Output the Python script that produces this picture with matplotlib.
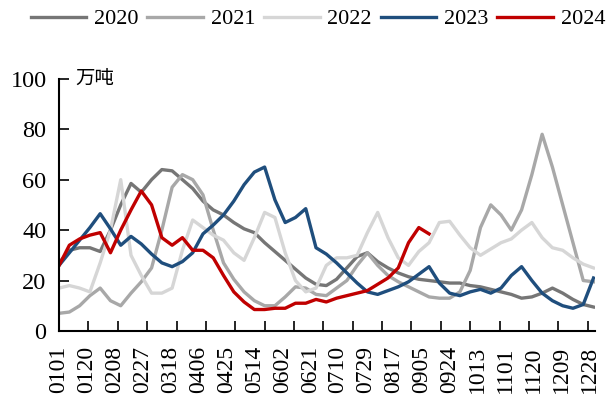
import numpy as np
import matplotlib
matplotlib.use('Agg')
import matplotlib.pyplot as plt

# weekly values, 万吨
y2020 = [27, 32, 33, 33, 31.5, 40, 50, 58.5, 55, 60, 64, 63.5, 60, 56.5, 51.5, 48, 46, 43,
         40.5, 39, 35, 31.5, 28, 24.5, 21, 18.5, 18, 20.5, 25, 29.5, 31, 27.5, 25, 23, 21.5,
         20.5, 20, 19.5, 19, 19, 18, 17.5, 16.5, 15.5, 14.5, 13, 13.5, 15, 17, 15, 12.5, 10.5, 9.5]
y2021 = [7, 7.5, 10, 14, 17, 12, 10, 15, 19.5, 25, 40, 57, 62, 60, 54, 40, 27, 20.5,
         15.5, 12, 10, 10, 13.5, 17.5, 17, 14.5, 14, 17, 20, 26, 31, 26, 22, 19.5, 17.5,
         15.5, 13.5, 13, 13, 15.5, 24, 41, 50, 46, 40, 48, 62, 78, 65, 50, 35, 20, 19.5]
y2022 = [17, 18, 17, 15.5, 27, 40, 60, 30, 22, 15, 15, 17, 32, 44, 41, 38, 36, 31,
         28, 37, 47, 45, 31, 20, 15.5, 17, 26, 29, 29, 30, 39, 47, 37, 29, 26,
         31.5, 35, 43, 43.5, 38, 33, 30, 32.5, 35, 36.5, 40, 43, 37, 33, 32, 29, 26.5, 25]
y2023 = [26, 31, 36, 41, 46.5, 40.5, 34, 37.5, 34.5, 30.5, 27, 25.5, 27.5, 31, 38.5, 42, 46, 51.5,
         58, 63, 65, 52, 43, 45, 48.5, 33, 30.5, 27, 23, 19, 15.5, 14.5, 16, 17.5, 19.5,
         22.5, 25.5, 19, 15, 14, 15.5, 16.5, 15, 17, 22, 25.5, 20, 15, 12, 10, 9, 10.5, 21]
y2024 = [26, 34, 36.5, 38, 39, 31, 40, 48, 55.5, 50, 37, 34, 37, 32, 32, 29, 22, 15.5,
         11.5, 8.5, 8.5, 9, 9, 11, 11, 12.5, 11.5, 13, 14, 15, 16, 18.5, 21, 25, 35, 41, 38.5]

series = {'2020': y2020, '2021': y2021, '2022': y2022, '2023': y2023, '2024': y2024}
colors = {'2020': '#767676', '2021': '#a8a8a8', '2022': '#d6d6d6',
          '2023': '#1f4e7d', '2024': '#c00000'}

tick_labels = ['0101', '0120', '0208', '0227', '0318', '0406', '0425', '0514', '0602', '0621',
               '0710', '0729', '0817', '0905', '0924', '1013', '1101', '1120', '1209', '1228']

plt.rcParams['font.family'] = ['Liberation Serif', 'Noto Sans CJK SC']

fig = plt.figure(figsize=(6.09, 3.94), dpi=100)
ax = fig.add_axes([0.097, 0.16, 0.88, 0.64])

for name, vals in series.items():
    days = np.arange(len(vals)) * 7
    ax.plot(days, vals, color=colors[name], lw=2.4, label=name)

ax.set_xlim(0, 365)
ax.set_ylim(0, 100)
ax.set_yticks(np.arange(0, 101, 20))
ax.tick_params(axis='y', direction='in', length=7, width=1.2, labelsize=17.5, pad=9)

# tick marks every 20 days, labels every 19 days
ax.xaxis.remove_overlapping_locs = False
ax.set_xticks(np.arange(0, 361, 20))
ax.set_xticklabels([])
ax.set_xticks(np.arange(len(tick_labels)) * 19, minor=True)
ax.set_xticklabels(tick_labels, minor=True, rotation=90)
ax.tick_params(axis='x', which='major', direction='in', length=7, width=1.2)
ax.tick_params(axis='x', which='minor', length=0, labelsize=17, pad=11)

for s in ['top', 'right']:
    ax.spines[s].set_visible(False)
for s in ['left', 'bottom']:
    ax.spines[s].set_linewidth(1.5)

ax.text(0.03, 1.0, '万吨', transform=ax.transAxes, fontsize=14,
        family='Noto Sans CJK SC', va='center', ha='left')

fig.legend(loc='upper center', bbox_to_anchor=(0.522, 1.0), ncol=5, frameon=False,
           fontsize=16, handlelength=2.5, columnspacing=0.4, handletextpad=0.35,
           borderpad=0.2, borderaxespad=0.2)

fig.savefig('out.png', dpi=100)
